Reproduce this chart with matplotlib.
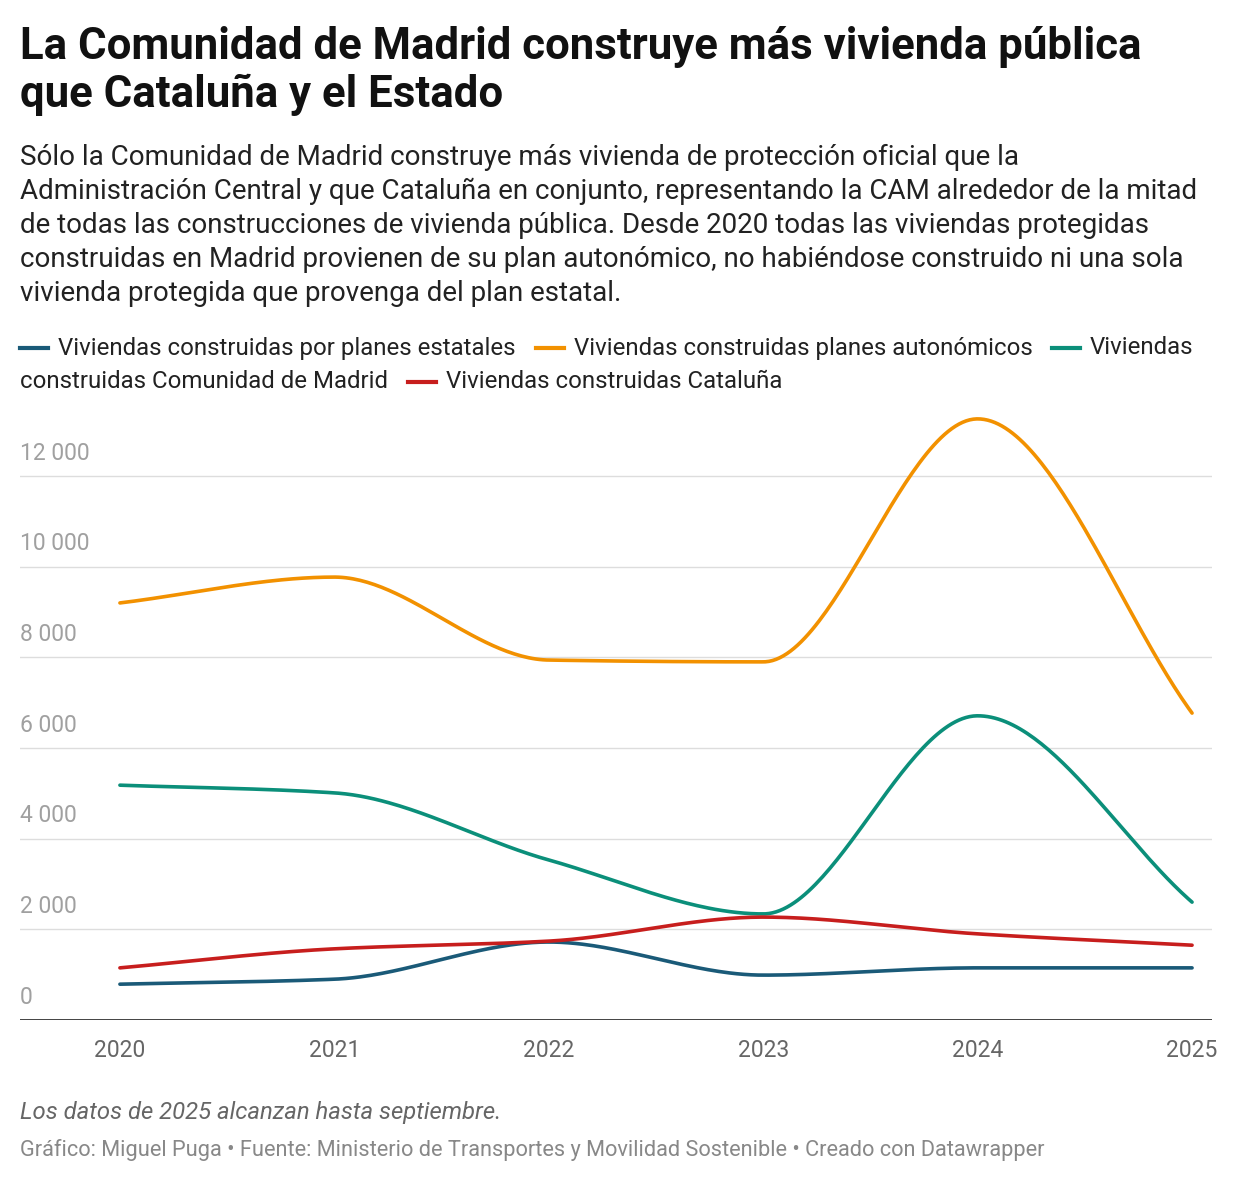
import numpy as np
import matplotlib.pyplot as plt

years = [2020, 2021, 2022, 2023, 2024, 2025]
estatales = [790, 900, 1720, 990, 1150, 1150]
autonomicos = [9200, 9770, 7940, 7900, 13260, 6770]
madrid = [5180, 5010, 3530, 2340, 6710, 2600]
cataluna = [1150, 1570, 1740, 2270, 1900, 1650]

series = [
    ("Viviendas construidas por planes estatales", estatales, "#1a5a78"),
    ("Viviendas construidas planes autonómicos", autonomicos, "#f29100"),
    ("Viviendas construidas Comunidad de Madrid", madrid, "#0b8f7a"),
    ("Viviendas construidas Cataluña", cataluna, "#c71e1d"),
]

plt.rcParams['font.family'] = ['Roboto', 'DejaVu Sans']


def monotone(x, y, n=300):
    # monotone cubic (Fritsch-Carlson) for smooth lines like the original
    x = np.asarray(x, float); y = np.asarray(y, float)
    h = np.diff(x); d = np.diff(y) / h
    m = np.zeros_like(y)
    m[0], m[-1] = d[0], d[-1]
    for i in range(1, len(y) - 1):
        if d[i - 1] * d[i] <= 0:
            m[i] = 0
        else:
            m[i] = 2 / (1 / d[i - 1] + 1 / d[i])
    xs = np.linspace(x[0], x[-1], n)
    idx = np.clip(np.searchsorted(x, xs) - 1, 0, len(x) - 2)
    t = (xs - x[idx]) / h[idx]
    h00 = 2*t**3 - 3*t**2 + 1; h10 = t**3 - 2*t**2 + t
    h01 = -2*t**3 + 3*t**2; h11 = t**3 - t**2
    ys = h00*y[idx] + h10*h[idx]*m[idx] + h01*y[idx+1] + h11*h[idx]*m[idx+1]
    return xs, ys


fig = plt.figure(figsize=(12.4, 11.86), dpi=100)
ax = fig.add_axes([20/1240, 1 - 1020/1186, 1192/1240, 610/1186])

for name, vals, col in series:
    xs, ys = monotone(years, vals)
    ax.plot(xs, ys, color=col, lw=2.6, solid_capstyle='round')

ax.set_xlim(2019.534, 2025.093)
ax.set_ylim(0, 13456)
for v in range(2000, 14000, 2000):
    ax.axhline(v, color='#dddddd', lw=1, zorder=0)
ax.axhline(0, color='#222222', lw=1.2)
for v in range(0, 14000, 2000):
    lab = f"{v:,}".replace(",", " ")
    ax.text(2019.534, v + 250, lab, fontsize=16.5, color='#a0a0a0', va='bottom', ha='left')
for s in ax.spines.values():
    s.set_visible(False)
ax.set_yticks([])
ax.set_xticks(years)
ax.set_xticklabels([str(y) for y in years], fontsize=16.5, color='#666666')
ax.tick_params(axis='x', length=0, pad=14)

fig.text(20/1240, 1 - 47/1186, "La Comunidad de Madrid construye más vivienda pública",
         fontsize=31.5, fontweight='bold', va='center', ha='left', color='#111111')
fig.text(20/1240, 1 - 95/1186, "que Cataluña y el Estado",
         fontsize=31.5, fontweight='bold', va='center', ha='left', color='#111111')
sub = ["Sólo la Comunidad de Madrid construye más vivienda de protección oficial que la",
       "Administración Central y que Cataluña en conjunto, representando la CAM alrededor de la mitad",
       "de todas las construcciones de vivienda pública. Desde 2020 todas las viviendas protegidas",
       "construidas en Madrid provienen de su plan autonómico, no habiéndose construido ni una sola",
       "vivienda protegida que provenga del plan estatal."]
for i, line in enumerate(sub):
    fig.text(20/1240, 1 - (157 + 34.2*i)/1186, line, fontsize=20, va='center', ha='left', color='#222222')


def leg(x, y, col, txt):
    fig.add_artist(plt.Line2D([x/1240, (x+28)/1240], [1-y/1186]*2, color=col, lw=3))
    fig.text((x+38)/1240, 1-y/1186, txt, fontsize=17.3, va='center', ha='left', color='#222222')


leg(20, 348, series[0][2], "Viviendas construidas por planes estatales")
leg(536, 348, series[1][2], "Viviendas construidas planes autonómicos")
leg(1052, 348, series[2][2], "Viviendas")
fig.text(20/1240, 1-382/1186, "construidas Comunidad de Madrid", fontsize=17.3, va='center', ha='left', color='#222222')
leg(408, 382, series[3][2], "Viviendas construidas Cataluña")

fig.text(20/1240, 1-1113/1186, "Los datos de 2025 alcanzan hasta septiembre.", fontsize=17.2,
         style='italic', color='#666666', va='center')
fig.text(20/1240, 1-1150/1186,
         "Gráfico: Miguel Puga • Fuente: Ministerio de Transportes y Movilidad Sostenible • Creado con Datawrapper",
         fontsize=15.7, color='#888888', va='center')

fig.savefig("out.png", dpi=100, facecolor='white')
